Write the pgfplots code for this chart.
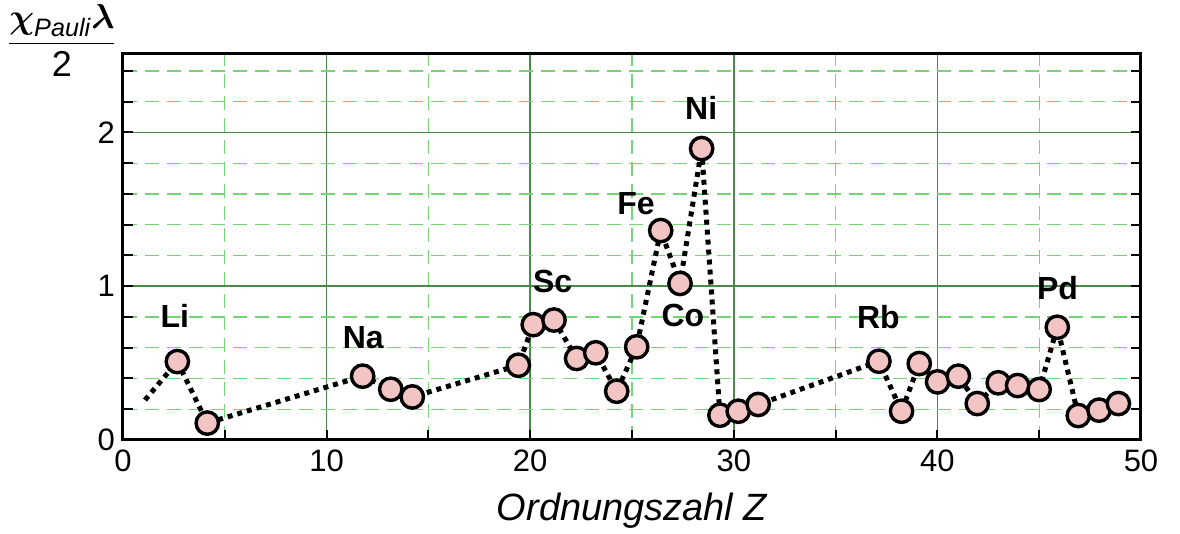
\documentclass[border=0pt]{standalone}
\usepackage{pgfplots}
\pgfplotsset{compat=1.18}
\usepackage{pgfplotstable}
\usepackage{amsmath}
\usepackage{fontspec}
\setmainfont{Liberation Sans}
\definecolor{majgrid}{RGB}{70,140,70}
\definecolor{mingrid}{RGB}{120,210,120}
\definecolor{pinkfill}{RGB}{242,196,196}
\pgfplotstableread{
x y
1.08 0.26
2.67 0.51
4.14 0.11
11.77 0.415
13.15 0.33
14.21 0.28
19.42 0.486
20.15 0.75
21.17 0.78
22.28 0.53
23.22 0.567
24.25 0.317
25.23 0.606
26.41 1.362
27.36 1.018
28.42 1.895
29.32 0.161
30.22 0.187
31.20 0.231
37.13 0.512
38.24 0.187
39.11 0.497
40.01 0.378
41.03 0.415
41.96 0.237
42.99 0.372
43.94 0.354
45.00 0.328
45.89 0.733
46.92 0.159
47.94 0.194
48.89 0.237
}\datatable
\begin{document}
\begin{tikzpicture}
\useasboundingbox (0,0) rectangle (590pt,267pt);
\begin{axis}[
  at={(61.5pt,47pt)}, anchor=south west,
  scale only axis, width=509pt, height=193pt,
  xmin=0, xmax=50, ymin=0, ymax=2.51,
  xtick={0,10,20,30,40,50}, ytick={0,1,2},
  minor xtick={5,15,25,35,45},
  minor ytick={0.2,0.4,0.6,0.8,1.2,1.4,1.6,1.8,2.2,2.4},
  xtick pos=left, ytick pos=both,
  tick align=inside,
  major tick length=5pt, minor tick length=5pt,
  every tick/.style={black, line width=1pt},
  grid=both,
  major grid style={majgrid, line width=0.8pt},
  minor grid style={mingrid, line width=0.6pt, dash pattern=on 7pt off 4pt},
  axis line style={line width=1.5pt},
  /pgf/number format/assume math mode=true,
  tick label style={font=\fontsize{15.5}{18}\selectfont},
  xticklabel style={yshift=-1.5pt},
  yticklabel style={xshift=-0.5pt},
  xlabel={\itshape Ordnungszahl Z},
  xlabel style={font=\fontsize{19}{22}\selectfont, at={(axis description cs:0.5,0)}, anchor=center, yshift=-35.5pt},
  clip=false,
]
\addplot[black, line width=2.5pt, dash pattern=on 2.5pt off 2.5pt] table[x=x,y=y] {\datatable};
\addplot[only marks, mark=*, mark size=5.6pt, mark options={fill=pinkfill, draw=black, line width=1.7pt}, skip coords between index={0}{1}] table[x=x,y=y] {\datatable};
\node[font=\fontsize{16}{18}\selectfont\bfseries] at (axis cs:2.55,0.81) {Li};
\node[font=\fontsize{16}{18}\selectfont\bfseries] at (axis cs:11.8,0.667) {Na};
\node[font=\fontsize{16}{18}\selectfont\bfseries] at (axis cs:21.1,1.03) {Sc};
\node[font=\fontsize{16}{18}\selectfont\bfseries] at (axis cs:25.2,1.54) {Fe};
\node[font=\fontsize{16}{18}\selectfont\bfseries] at (axis cs:27.5,0.81) {Co};
\node[font=\fontsize{16}{18}\selectfont\bfseries] at (axis cs:28.4,2.16) {Ni};
\node[font=\fontsize{16}{18}\selectfont\bfseries] at (axis cs:37.1,0.80) {Rb};
\node[font=\fontsize{16}{18}\selectfont\bfseries] at (axis cs:45.9,0.99) {Pd};
\node[font=\fontsize{18}{21}\selectfont] at (axis description cs:-0.06,1.035) {$\dfrac{\boldsymbol{\chi}_{\text{\itshape Pauli}}\boldsymbol{\lambda}}{\text{2}}$};
\end{axis}
\end{tikzpicture}
\end{document}
